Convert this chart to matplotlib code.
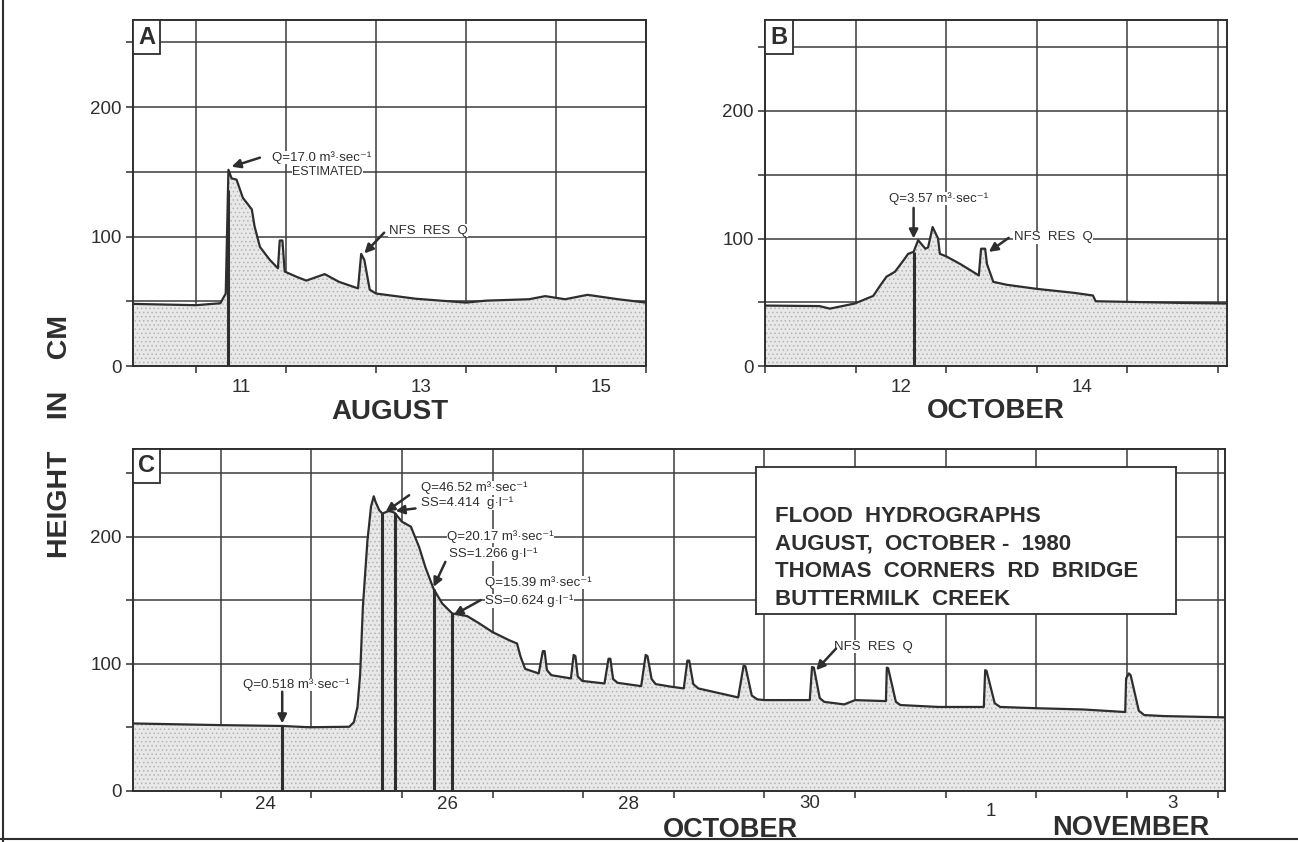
import numpy as np
import matplotlib
matplotlib.use('Agg')
import matplotlib.pyplot as plt
from matplotlib.lines import Line2D
from matplotlib.offsetbox import AnchoredText

plt.rcParams['font.family'] = ['Liberation Sans', 'DejaVu Sans']
plt.rcParams['hatch.linewidth'] = 0.6

INK = '#2e2e2e'

# ---- panel A: August (day of month) ----
a_day = [10.30, 11.0, 11.27, 11.33, 11.36, 11.395, 11.45, 11.49, 11.52, 11.62,
         11.65, 11.71, 11.82, 11.91, 11.93, 11.96, 11.985, 12.115, 12.225, 12.43,
         12.59, 12.80, 12.835, 12.87, 12.93, 13.0, 13.44, 14.0, 14.22, 14.70,
         14.88, 15.1, 15.35, 15.69, 16.0]
a_cm = [48, 47, 48.5, 56, 151.6, 145, 144, 136, 130, 121,
        108, 92, 82, 75.5, 97, 97, 73, 69, 66, 71,
        65, 60, 86.6, 82, 59, 56, 52, 49, 50.5, 51.6,
        54, 51.6, 55, 51.6, 49]
a_samples = [11.355]
a_ticklabels = ['11', '13', '15']

# ---- panel B: October (day of month) ----
b_day = [11.0, 11.60, 11.715, 11.99, 12.195, 12.27, 12.34, 12.435, 12.53, 12.58,
         12.64, 12.69, 12.77, 12.80, 12.85, 12.91, 12.93, 13.0, 13.155, 13.27,
         13.36, 13.385, 13.43, 13.45, 13.52, 13.67, 14.0, 14.41, 14.62, 14.65,
         15.59, 16.1]
b_cm = [47.4, 47, 45, 49, 55, 63, 70, 74, 83, 88,
        89.5, 98.7, 92, 93, 109, 100, 88, 86, 80, 75,
        71, 92, 92, 80, 66, 63.7, 60.5, 57.4, 55.3, 50.8,
        49.5, 49]
b_samples = [12.64]
b_ticklabels = ['12', '14']

# ---- panel C: 23 Oct - 3 Nov (Nov 1 = day 32) ----
c_day = [23.03, 23.99, 24.685, 24.98, 25.42, 25.47, 25.51, 25.54, 25.57, 25.62,
         25.66, 25.69, 25.71, 25.75, 25.785, 25.86, 25.92, 26.0, 26.10, 26.19,
         26.26, 26.35, 26.445, 26.555, 26.72, 26.85, 27.0, 27.18, 27.27, 27.31,
         27.36, 27.51, 27.555, 27.575, 27.60, 27.65, 27.865, 27.895, 27.915, 27.94,
         27.99, 28.235, 28.28, 28.30, 28.33, 28.38, 28.64, 28.69, 28.71, 28.755,
         28.80, 28.975, 29.11, 29.15, 29.17, 29.215, 29.27, 29.71, 29.77, 29.79,
         29.86, 29.92, 30.0, 30.5, 30.525, 30.545, 30.61, 30.66, 30.88, 31.0,
         31.34, 31.35, 31.365, 31.45, 31.50, 31.92, 32.42, 32.435, 32.45, 32.54,
         32.60, 33.0, 33.52, 33.98, 33.99, 34.02, 34.04, 34.13, 34.19, 34.41,
         35.08]
c_cm = [53, 51.7, 51, 50, 50.4, 54, 66, 92, 145, 197,
        224, 232, 227.5, 221, 218.4, 220.5, 219, 212, 208, 192,
        176, 159, 147.5, 139.7, 137.6, 132, 125, 118.7, 116, 105.5,
        96, 92.4, 110, 110, 95, 91, 88.5, 107, 106, 90,
        86.5, 84.5, 104, 104, 88, 85, 82.4, 107, 106, 88,
        84, 81.9, 80.6, 102.5, 102.5, 84, 80.6, 73.5, 98.5, 98,
        75, 72, 71.4, 71.4, 97.5, 97, 73, 70, 68, 71.4,
        70.6, 97, 96.5, 70, 67.5, 66, 66, 95, 94.5, 69,
        66, 65, 64, 62, 88.5, 92.4, 91, 63, 59.6, 58.8,
        57.8]
c_samples = [24.68, 25.78, 25.92, 26.35, 26.555]
c_ticklabels = ['24', '26', '28', '30', '1', '3']

title_lines = ['FLOOD  HYDROGRAPHS', 'AUGUST,  OCTOBER -  1980',
               'THOMAS  CORNERS  RD  BRIDGE', 'BUTTERMILK  CREEK']


def hydrograph(ax, day, cm, samples, xlim, ylim, letter):
    ax.set_xlim(*xlim)
    ax.set_ylim(*ylim)
    ax.fill_between(day, 0, cm, facecolor='#e8e8e8', edgecolor='#b4b4b4',
                    hatch='....', linewidth=0, zorder=2)
    ax.plot(day, cm, color=INK, lw=1.6, zorder=3)
    for s in samples:
        ax.vlines(s, 0, np.interp(s, day, cm), color=INK, lw=2.2, zorder=3)
    ax.set_axisbelow(True)
    ax.set_xticks(np.arange(np.ceil(xlim[0]), xlim[1] + 0.001, 1.0))
    ax.set_xticklabels([])
    ax.set_yticks([0, 50, 100, 150, 200, 250])
    ax.set_yticklabels(['0', '', '100', '', '200', ''])
    ax.grid(True, color='#3c3c3c', lw=1.1)
    ax.tick_params(which='major', direction='out', length=5, width=1.1,
                   color=INK, labelsize=13.5, labelcolor=INK, pad=3)
    for sp in ax.spines.values():
        sp.set_color(INK)
        sp.set_linewidth(1.4)
    at = AnchoredText(letter, loc='upper left', frameon=True, borderpad=0,
                      pad=0.22, prop=dict(size=17, weight='bold', color=INK))
    at.patch.set_edgecolor(INK)
    at.patch.set_linewidth(1.3)
    ax.add_artist(at)


def note(ax, x, y, s, size=9.5, ha='center'):
    ax.text(x, y, s, fontsize=size, ha=ha, va='center', color=INK, zorder=5,
            bbox=dict(facecolor='white', edgecolor='none', pad=0.3))


def arrow(ax, x0, y0, x1, y1):
    ax.annotate('', xy=(x1, y1), xytext=(x0, y0), zorder=6,
                arrowprops=dict(arrowstyle='-|>', color=INK, lw=1.8,
                                mutation_scale=13, shrinkA=0, shrinkB=0))


def day_labels(ax, positions, labels, drop, size=13.5):
    for x, s, d in zip(positions, labels, drop):
        ax.annotate(s, xy=(x, 0), xycoords=('data', 'axes fraction'),
                    xytext=(0, -d), textcoords='offset points',
                    ha='center', va='top', fontsize=size, color=INK)


fig = plt.figure(figsize=(12.98, 8.42), dpi=100)
fig.patch.set_facecolor('white')

axA = fig.add_axes([0.1025, 0.5653, 0.3952, 0.4104])
axB = fig.add_axes([0.5894, 0.5653, 0.3559, 0.4104])
axC = fig.add_axes([0.1022, 0.0609, 0.8415, 0.4055])

hydrograph(axA, a_day, a_cm, a_samples, (10.30, 16.0), (0, 267), 'A')
hydrograph(axB, b_day, b_cm, b_samples, (11.0, 16.1), (0, 271), 'B')
hydrograph(axC, c_day, c_cm, c_samples, (23.03, 35.08), (0, 269), 'C')

# day labels sit in the middle of each day
day_labels(axA, [11.5, 13.5, 15.5], a_ticklabels, [9, 9, 9])
day_labels(axB, [12.5, 14.5], b_ticklabels, [9, 9])
day_labels(axC, [24.5, 26.5, 28.5, 30.5, 32.5, 34.5], c_ticklabels,
           [4, 4, 4, 3, 9, 3])

# month names
axA.text(0.5, -0.133, 'AUGUST', transform=axA.transAxes, ha='center',
         va='center', fontsize=20, weight='bold', color=INK)
axB.text(0.5, -0.13, 'OCTOBER', transform=axB.transAxes, ha='center',
         va='center', fontsize=20, weight='bold', color=INK)
axC.annotate('OCTOBER', xy=(29.62, 0), xycoords=('data', 'axes fraction'),
             xytext=(0, -28), textcoords='offset points', ha='center',
             va='center', fontsize=19.5, weight='bold', color=INK)
axC.annotate('NOVEMBER', xy=(34.04, 0), xycoords=('data', 'axes fraction'),
             xytext=(0, -27), textcoords='offset points', ha='center',
             va='center', fontsize=19.5, weight='bold', color=INK)

fig.text(0.046, 0.481, 'HEIGHT    IN    CM', rotation=90, ha='center',
         va='center', fontsize=20.5, weight='bold', color=INK)

# panel A notes
note(axA, 12.39, 161, 'Q=17.0 m³·sec⁻¹')
note(axA, 12.456, 150, 'ESTIMATED', size=9)
arrow(axA, 11.71, 161, 11.395, 154)
note(axA, 13.58, 104.6, 'NFS  RES  Q', size=9.5)
arrow(axA, 13.09, 103, 12.87, 87)

# panel B notes
note(axB, 12.915, 131.5, 'Q=3.57 m³·sec⁻¹')
arrow(axB, 12.64, 124, 12.64, 100)
note(axB, 14.18, 101, 'NFS  RES  Q', size=9.5)
arrow(axB, 13.69, 100.5, 13.47, 89.5)

# panel C notes
note(axC, 24.84, 83.8, 'Q=0.518 m³·sec⁻¹')
arrow(axC, 24.68, 78, 24.68, 53)
note(axC, 26.21, 238.5, 'Q=46.52 m³·sec⁻¹', ha='left')
note(axC, 26.21, 226.5, 'SS=4.414  g·l⁻¹', ha='left')
arrow(axC, 26.08, 232.8, 25.82, 219.7)
arrow(axC, 26.15, 222.4, 25.93, 220.5)
note(axC, 26.50, 200.5, 'Q=20.17 m³·sec⁻¹', ha='left')
note(axC, 26.52, 186.4, 'SS=1.266 g·l⁻¹', ha='left')
arrow(axC, 26.48, 180.3, 26.35, 160.6)
note(axC, 26.92, 164, 'Q=15.39 m³·sec⁻¹', ha='left')
note(axC, 26.92, 149.5, 'SS=0.624 g·l⁻¹', ha='left')
arrow(axC, 26.87, 150.2, 26.57, 138.3)
note(axC, 31.2, 113.4, 'NFS  RES  Q', size=9.5)
arrow(axC, 30.79, 112, 30.57, 95)

# title box inside panel C
box = axC.inset_axes([0.571, 0.518, 0.384, 0.431])
box.set_xticks([])
box.set_yticks([])
box.set_facecolor('white')
box.set_zorder(7)
for sp in box.spines.values():
    sp.set_color(INK)
    sp.set_linewidth(1.3)
for i, line in enumerate(title_lines):
    box.text(0.045, 0.627 - i * 0.189, line, transform=box.transAxes,
             ha='left', va='baseline', fontsize=16, weight='bold', color=INK)

# page frame lines of the scanned figure
fig.add_artist(Line2D([0.0025, 0.0025], [0.0, 1.0], color=INK, lw=1.5))
fig.add_artist(Line2D([0.0, 1.0], [0.003, 0.003], color=INK, lw=1.5))

fig.savefig('out.png', dpi=100, facecolor='white')
